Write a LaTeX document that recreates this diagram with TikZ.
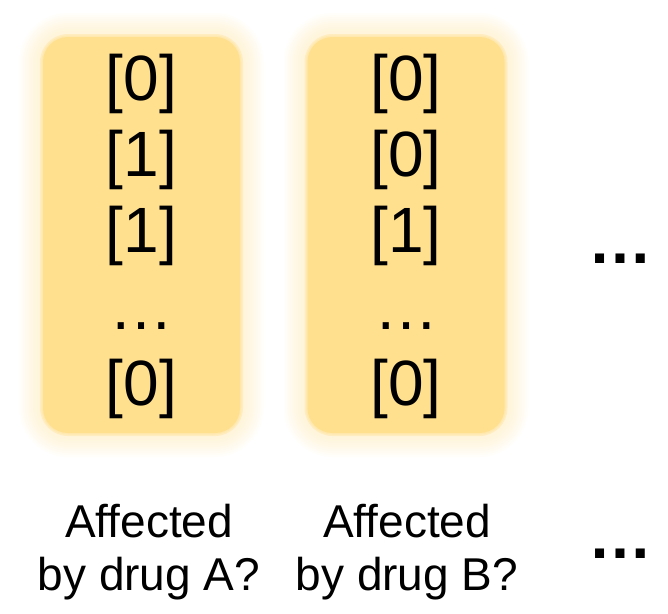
\documentclass[tikz,border=0pt]{standalone}
\usepackage{fontspec}
\setmainfont{Liberation Sans}
\definecolor{colgold}{HTML}{FFE08F}
\definecolor{colhalo}{HTML}{FFE6A8}

\begin{document}
\begin{tikzpicture}[x=1pt,y=-1pt,
    bit/.style={anchor=base,inner sep=0pt,font=\fontsize{64}{64}\selectfont},
    lbl/.style={anchor=north,align=center,inner sep=0pt,font=\fontsize{46}{53}\selectfont},
    more/.style={anchor=base,inner sep=0pt,font=\fontsize{64}{64}\selectfont\bfseries}]
    \useasboundingbox (0,0) rectangle (668,613);
    % two columns with a soft glow round them
    \foreach \cx in {141.5,406} {
      \foreach \g in {24,22,...,6}
        \fill[colhalo,opacity=.05,rounded corners=25+\g]
          (\cx-98.5-\g,37-\g) rectangle (\cx+98.5+\g,433+\g);
      \foreach \g in {3,1.5}
        \fill[colgold,opacity=.35,rounded corners=25+\g]
          (\cx-98.5-\g,37-\g) rectangle (\cx+98.5+\g,433+\g);
      \fill[colgold,rounded corners=25] (\cx-98.5,37) rectangle (\cx+98.5,433);
    }
    % drug A column
    \foreach \v [count=\i] in {[0],[1],[1],…,[0]}
      \node[bit] (a\i) at (141.5,24+76.25*\i) {\v};
    % drug B column
    \foreach \v [count=\i] in {[0],[0],[1],…,[0]}
      \node[bit] (b\i) at (406,24+76.25*\i) {\v};
    \node[lbl] (labA) at (149,504) {Affected\\by drug A?};
    \node[lbl] (labB) at (407,504) {Affected\\by drug B?};
    \node[more] (moreT) at (620.5,263) {…};
    \node[more] (moreB) at (620.5,558) {…};
\end{tikzpicture}
\end{document}
